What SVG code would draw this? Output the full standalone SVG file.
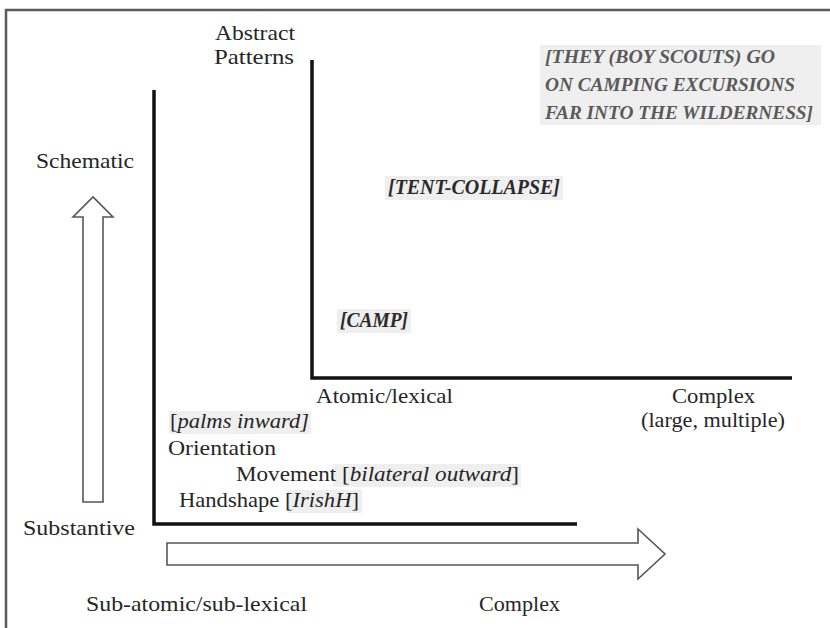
<svg xmlns="http://www.w3.org/2000/svg" width="830" height="628" viewBox="0 0 830 628">
  <style>
    .lbl { font-family: "Liberation Serif", "DejaVu Serif", serif; font-size: 22px; fill: #262626; }
    .ex { font-family: "Liberation Serif", "DejaVu Serif", serif; font-size: 21px; fill: #2a2a2a; font-style: italic; font-weight: bold; }
    .ex2 { font-family: "Liberation Serif", "DejaVu Serif", serif; font-size: 19.5px; fill: #5a5a5a; font-style: italic; font-weight: bold; }
    .it { font-style: italic; }
    .hl { fill: #efefef; }
    .axis { stroke: #111; stroke-width: 3.5; fill: none; }
    .big { fill: #fff; stroke: #555; stroke-width: 1.6; stroke-linejoin: miter; }
    .frame { stroke: #5a5a5a; stroke-width: 2.5; fill: none; }
  </style>

  <rect x="0" y="0" width="830" height="628" fill="#fff"/>
  <path class="frame" d="M6 628 V10 H830"/>

  <!-- highlight backgrounds -->
  <g id="highlights">
    <rect class="hl" x="540" y="45" width="281" height="80"/>
    <rect class="hl" x="385" y="176" width="178" height="24"/>
    <rect class="hl" x="337" y="309" width="74" height="24"/>
    <rect class="hl" x="169" y="411" width="142" height="23"/>
    <rect class="hl" x="333" y="464" width="188" height="23"/>
    <rect class="hl" x="288" y="490" width="74" height="23"/>
  </g>

  <!-- axes and direction arrows -->
  <g id="connectors">
    <path class="axis" d="M154 90 V524 H577"/>
    <path class="axis" d="M312 60 V378 H792"/>
    <path class="big" d="M83 502 V217 H73 L93 197 L113 217 H103 V502 Z"/>
    <path class="big" d="M167 543 H638 V529 L665 554 L638 579 V565 H167 Z"/>
  </g>

  <g id="abstract-patterns">
    <text class="lbl" x="215" y="40" textLength="80" lengthAdjust="spacingAndGlyphs">Abstract</text>
    <text class="lbl" x="214" y="64" textLength="80" lengthAdjust="spacingAndGlyphs">Patterns</text>
  </g>
  <g id="schematic"><text class="lbl" x="36" y="168" textLength="98" lengthAdjust="spacingAndGlyphs">Schematic</text></g>
  <g id="substantive"><text class="lbl" x="23" y="535" textLength="112" lengthAdjust="spacingAndGlyphs">Substantive</text></g>
  <g id="sub-atomic"><text class="lbl" x="86" y="611" textLength="221" lengthAdjust="spacingAndGlyphs">Sub-atomic/sub-lexical</text></g>
  <g id="complex-bottom"><text class="lbl" x="479" y="611" textLength="81" lengthAdjust="spacingAndGlyphs">Complex</text></g>
  <g id="atomic-lexical"><text class="lbl" x="316" y="403" textLength="137" lengthAdjust="spacingAndGlyphs">Atomic/lexical</text></g>
  <g id="complex-right">
    <text class="lbl" x="672" y="403" textLength="83" lengthAdjust="spacingAndGlyphs">Complex</text>
    <text class="lbl" x="641" y="427" textLength="144" lengthAdjust="spacingAndGlyphs">(large, multiple)</text>
  </g>

  <g id="palms-inward"><text class="lbl" x="170" y="428" textLength="139" lengthAdjust="spacingAndGlyphs">[<tspan class="it">palms inward]</tspan></text></g>
  <g id="orientation"><text class="lbl" x="168" y="455" textLength="108" lengthAdjust="spacingAndGlyphs">Orientation</text></g>
  <g id="movement"><text class="lbl" x="236" y="481" textLength="283" lengthAdjust="spacingAndGlyphs">Movement [<tspan class="it">bilateral outward</tspan>]</text></g>
  <g id="handshape"><text class="lbl" x="179" y="507" textLength="180" lengthAdjust="spacingAndGlyphs">Handshape [<tspan class="it">IrishH</tspan>]</text></g>

  <g id="camp"><text class="ex" x="340" y="327" textLength="68" lengthAdjust="spacingAndGlyphs">[CAMP]</text></g>
  <g id="tent-collapse"><text class="ex" x="388" y="194" textLength="172" lengthAdjust="spacingAndGlyphs">[TENT-COLLAPSE]</text></g>
  <g id="boy-scouts">
    <text class="ex2" x="545" y="63" textLength="230" lengthAdjust="spacingAndGlyphs">[THEY (BOY SCOUTS) GO</text>
    <text class="ex2" x="545" y="91" textLength="250" lengthAdjust="spacingAndGlyphs">ON CAMPING EXCURSIONS</text>
    <text class="ex2" x="545" y="119" textLength="268" lengthAdjust="spacingAndGlyphs">FAR INTO THE WILDERNESS]</text>
  </g>
</svg>
